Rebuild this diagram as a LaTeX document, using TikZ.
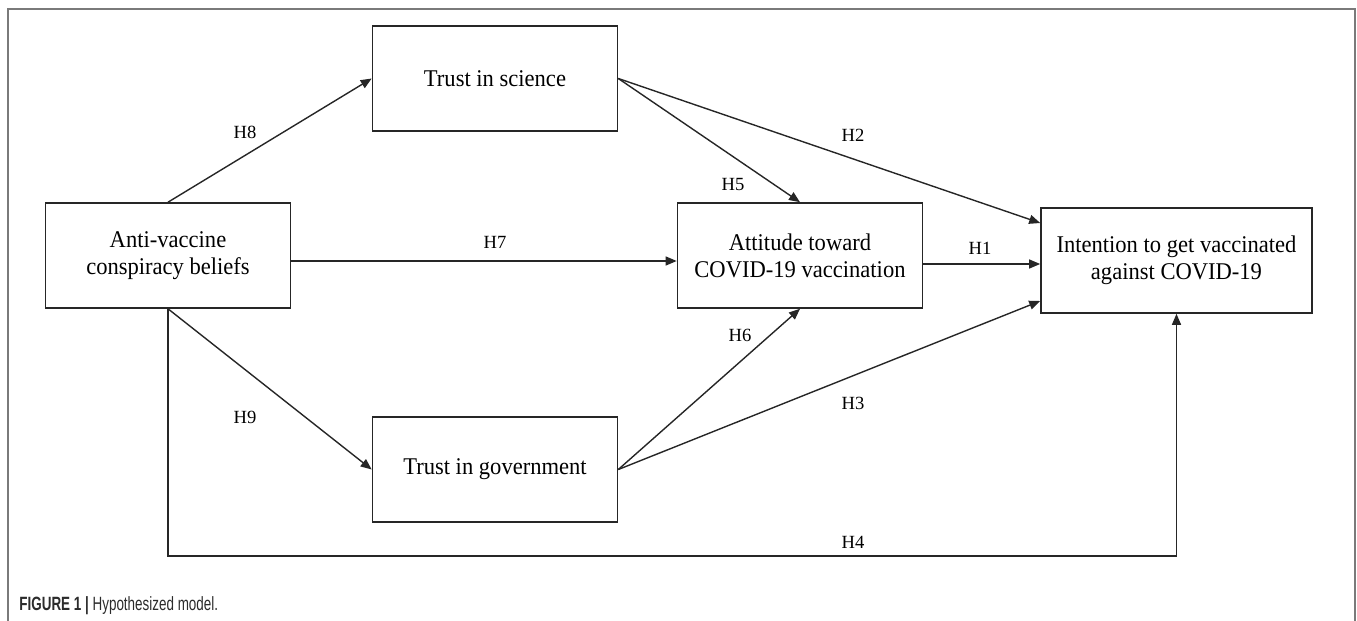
\documentclass[tikz,border=0pt]{standalone}
\usepackage{fontspec}
\setmainfont{Liberation Serif}
\setsansfont[FakeStretch=0.7]{Liberation Sans}
\newfontfamily\boxfont[FakeStretch=0.94]{Liberation Serif}
\usetikzlibrary{arrows.meta}
\definecolor{framegray}{HTML}{7A7A7A}
\definecolor{capgray}{HTML}{2B2B2B}
\tikzset{
  box/.style={draw=black!85, line width=0.8pt, minimum width=122.5pt, minimum height=52.5pt,
    inner sep=0pt, align=center, font=\boxfont\fontsize{12}{13.5}\selectfont},
  lab/.style={font=\fontsize{9.3}{11}\selectfont, inner sep=0pt},
  link/.style={draw=black!85, line width=0.7pt, -{Triangle[length=5.5pt,width=4.5pt]}}
}

\begin{document}
\begin{tikzpicture}[x=0.5pt,y=-0.5pt]
\useasboundingbox (0,0) rectangle (1357,621);
\draw[framegray, line width=1.2pt] (8,621) -- (8,9) -- (1355,9) -- (1355,621);

% boxes
\node[box] (sci) at (495,78.5) {Trust in science};
\node[box] (anti) at (168,255.5) {Anti-vaccine\\conspiracy beliefs};
\node[box] (att) at (800,255.5) {Attitude toward\\COVID-19 vaccination};
\node[box, minimum width=135.5pt] (int) at (1176.5,260.5) {Intention to get vaccinated\\against COVID-19};
\node[box] (gov) at (495,469.5) {Trust in government};
\coordinate (low) at (600,556);

% paths
\foreach \from/\to in {anti.north/sci.west,anti.south/gov.west,sci.east/att.north,gov.east/att.south}
\draw[link] (\from) -- (\to);
\draw[link] ([yshift=-2.75pt]anti.east) -- ([yshift=-2.75pt]att.west);
\draw[link] ([yshift=-4.25pt]att.east) -- ([yshift=-1.75pt]int.west);
\draw[link] (sci.east) -- ([yshift=18.75pt]int.west);
\draw[link] (gov.east) -- ([yshift=-20.25pt]int.west);
\draw[link] (anti.south) |- (low) -| (int.south);

% hypotheses
\node[lab] (h1) at (980,248) {H1};
\node[lab] (h2) at (853,135) {H2};
\node[lab] (h3) at (853,403) {H3};
\node[lab] (h4) at (853,542) {H4};
\node[lab] (h5) at (733,184) {H5};
\node[lab] (h6) at (740,335) {H6};
\node[lab] (h7) at (495,242) {H7};
\node[lab] (h8) at (245,132) {H8};
\node[lab] (h9) at (245,417) {H9};

\node[anchor=base west, inner sep=0pt, font=\sffamily\fontsize{9.6}{11}\selectfont, text=capgray]
  (cap) at (19,610) {\textbf{FIGURE 1} \textbf{|} Hypothesized model.};
\end{tikzpicture}
\end{document}
